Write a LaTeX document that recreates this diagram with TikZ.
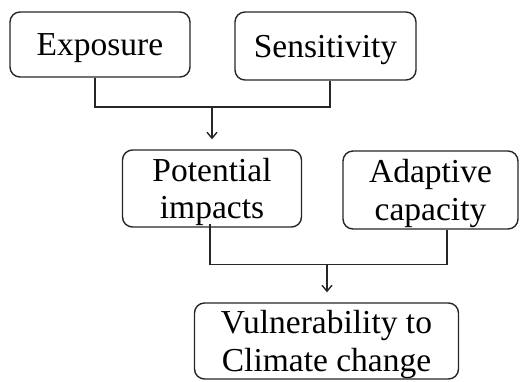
\documentclass[tikz,border=0pt]{standalone}
\usepackage{fontspec}
\setmainfont{Liberation Serif}
\usetikzlibrary{arrows.meta}
\begin{document}
\begin{tikzpicture}[x=1pt,y=-1pt,
  box/.style={draw=black!85, line width=1.4pt, rounded corners=10pt, align=center,
    inner sep=0pt, text depth=0pt, font=\fontsize{33.5}{37.5}\selectfont},
  conn/.style={draw=black!85, line width=1.4pt},
  arr/.style={conn, -{Straight Barb[length=6pt,width=10pt]}, shorten >=10pt}]
\useasboundingbox (0,0) rectangle (520,381);
\node[box, minimum width=180pt, minimum height=65pt] (exp) at (100,44.5) {Exposure};
\node[box, minimum width=181pt, minimum height=68pt] (sens) at (325.5,46) {Sensitivity};
\node[box, minimum width=179pt, minimum height=77pt] (pot) at (212,188.5) {Potential\\impacts};
\node[box, minimum width=175pt, minimum height=78pt] (ada) at (430.5,190) {Adaptive\\capacity};
\node[box, minimum width=264pt, minimum height=76pt] (vul) at (326.5,341) {Vulnerability to\\Climate change};
\coordinate (j1) at (212,107);
\coordinate (j2) at (327,264.5);
\draw[conn] ([xshift=-5pt]exp.south) -- ([xshift=-5pt]exp.south |- j1) -- ([xshift=4.5pt]sens.south |- j1) -- ([xshift=4.5pt]sens.south);
\draw[arr] (j1) -- (pot.north -| j1);
\draw[conn] ([yshift=4pt,xshift=-2pt]pot.south) -- ([xshift=-2pt]pot.south |- j2) -- ([xshift=16.5pt]ada.south |- j2) -- ([xshift=16.5pt]ada.south);
\draw[arr] (j2) -- (vul.north -| j2);
\end{tikzpicture}
\end{document}
